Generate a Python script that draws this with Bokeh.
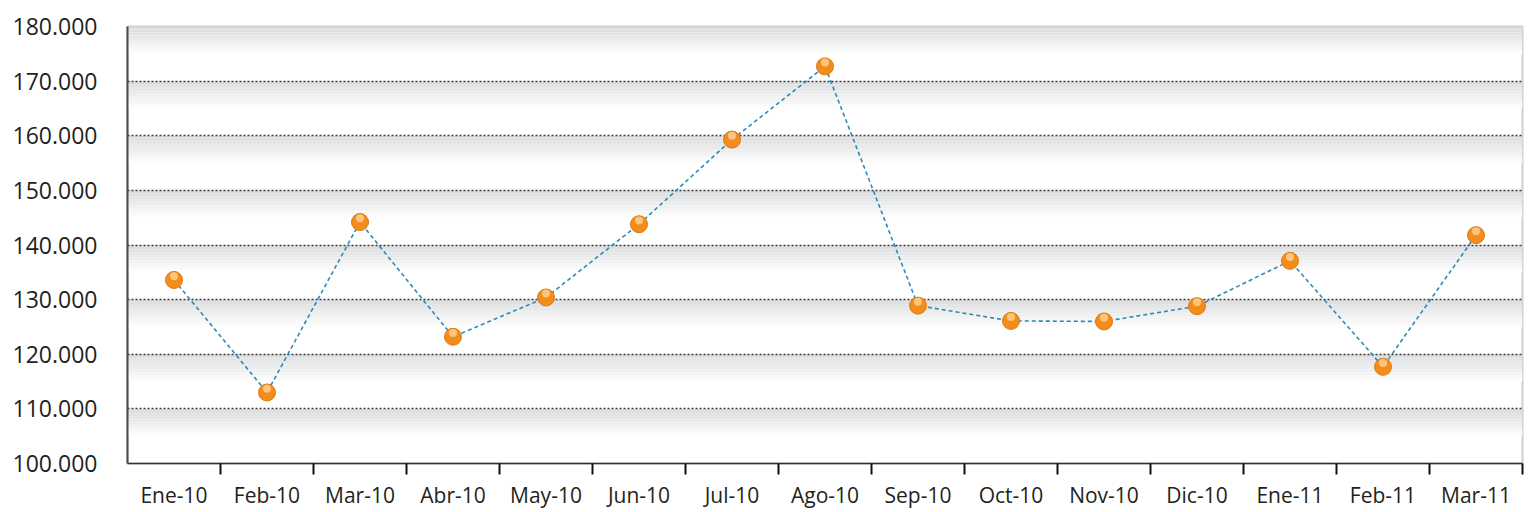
from bokeh.plotting import figure
from bokeh.models import FactorRange, Range1d, LinearAxis, FixedTicker, CustomJSTickFormatter
from bokeh.transform import dodge
from bokeh.embed import file_html
from bokeh.resources import INLINE

months = ["Ene-10", "Feb-10", "Mar-10", "Abr-10", "May-10", "Jun-10", "Jul-10",
          "Ago-10", "Sep-10", "Oct-10", "Nov-10", "Dic-10", "Ene-11", "Feb-11", "Mar-11"]
values = [133600, 113000, 144200, 123200, 130400, 143800, 159300,
          172700, 128900, 126100, 126000, 128800, 137100, 117700, 141800]
y_ticks = [100000, 110000, 120000, 130000, 140000, 150000, 160000, 170000, 180000]
y_tick_labels = ["100.000", "110.000", "120.000", "130.000", "140.000",
                 "150.000", "160.000", "170.000", "180.000"]

FONT = "Open Sans"
TEXT = "#231f20"

p = figure(width=1528, height=511, output_backend="svg", toolbar_location=None,
           x_range=FactorRange(factors=months), y_range=Range1d(y_ticks[0], y_ticks[-1]),
           x_axis_location=None, min_border_left=127, min_border_top=26,
           min_border_right=6, min_border_bottom=44)
p.background_fill_color = "white"
p.border_fill_color = "white"
p.outline_line_color = "#cfcfcf"
p.outline_line_width = 2
p.xgrid.visible = False

# gradient bands: grey at top of each band fading to white
n = len(months)
steps = 18
top_rgb = (218, 219, 221)
lefts, rights, tops, bottoms, colors = [], [], [], [], []
for lo, hi in zip(y_ticks[:-1], y_ticks[1:]):
    h = (hi - lo) * 0.5 / steps
    for k in range(steps):
        t = k / steps
        c = tuple(int(round(top_rgb[i] + (255 - top_rgb[i]) * t)) for i in range(3))
        lefts.append(0); rights.append(n)
        tops.append(hi - k * h); bottoms.append(hi - (k + 1) * h)
        colors.append("#%02x%02x%02x" % c)
p.quad(left=lefts, right=rights, top=tops, bottom=bottoms, fill_color=colors,
       line_color=None, level="image")

# y axis
yax = p.yaxis[0]
yax.ticker = FixedTicker(ticks=y_ticks)
yax.major_label_overrides = {v: s for v, s in zip(y_ticks, y_tick_labels)}
yax.major_label_text_font = FONT
yax.major_label_text_font_size = "23px"
yax.major_label_text_color = TEXT
yax.major_label_standoff = 30
yax.major_tick_out = 0
yax.major_tick_in = 0
yax.minor_tick_out = 0
yax.minor_tick_in = 0
yax.axis_line_color = "#4a4a4a"
yax.axis_line_width = 2

p.ygrid.ticker = FixedTicker(ticks=y_ticks[1:-1])
p.ygrid.grid_line_color = "#3a3a3a"
p.ygrid.grid_line_dash = "2 2"
p.ygrid.grid_line_width = 1.5

# x axis: labels at category centres, tick marks (minor) at category boundaries
centres = [i + 0.5 for i in range(n)]
xax = LinearAxis(ticker=FixedTicker(ticks=centres, minor_ticks=list(range(1, n + 1))),
                 formatter=CustomJSTickFormatter(args=dict(months=months),
                                                 code="return months[Math.floor(tick)];"))
xax.major_tick_out = 0
xax.major_tick_in = 0
xax.minor_tick_out = 11
xax.minor_tick_in = 0
xax.minor_tick_line_color = "#111111"
xax.minor_tick_line_width = 2
xax.axis_line_color = "#333333"
xax.axis_line_width = 1.5
xax.major_label_standoff = 6
xax.major_label_text_font = FONT
xax.major_label_text_font_size = "21px"
xax.major_label_text_color = TEXT
p.add_layout(xax, "below")

src = dict(x=months, y=values)
p.line(x="x", y="y", source=src, line_color="#2b8bb8", line_width=1.6, line_dash="4 3")
p.scatter(x="x", y="y", source=src, size=17, fill_color="#f28c1b",
          line_color="#de7a12", line_width=1)
p.scatter(x="x", y=dodge("y", 700), source=src, size=8, fill_color="#ffd8a0",
          fill_alpha=0.75, line_color=None)

open("out.html", "w").write(file_html(p, INLINE))
